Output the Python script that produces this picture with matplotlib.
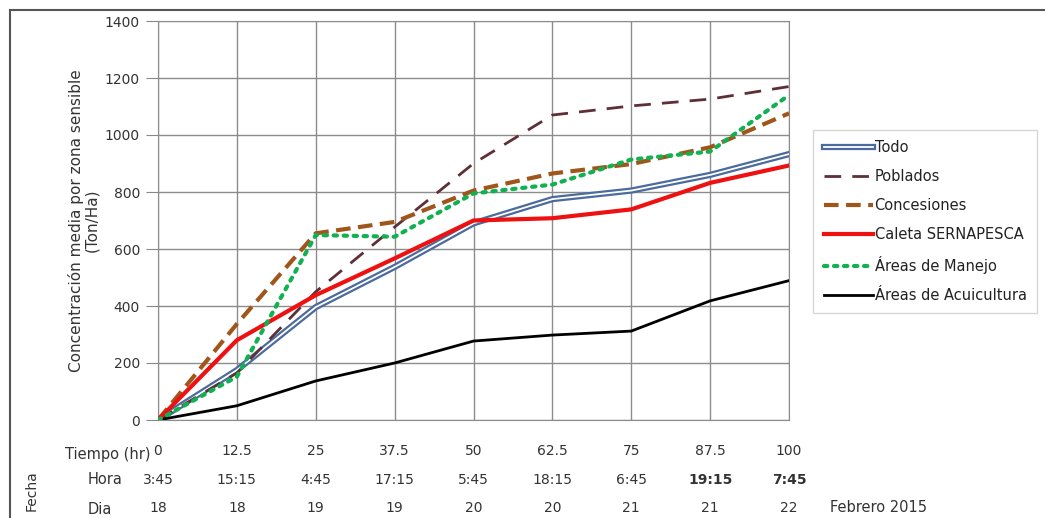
import matplotlib
matplotlib.use("Agg")
import matplotlib.pyplot as plt
import matplotlib.patheffects as pe
from matplotlib.lines import Line2D
from matplotlib.transforms import blended_transform_factory

plt.rcParams['font.family'] = ['DejaVu Sans']

tiempo = [0, 12.5, 25, 37.5, 50, 62.5, 75, 87.5, 100]
tiempo_labels = ["0", "12.5", "25", "37.5", "50", "62.5", "75", "87.5", "100"]
hora_labels = ["3:45", "15:15", "4:45", "17:15", "5:45", "18:15", "6:45", "19:15", "7:45"]
dia_labels = ["18", "18", "19", "19", "20", "20", "21", "21", "22"]

todo = [0, 175, 396, 537, 690, 775, 805, 860, 933]
poblados = [0, 165, 450, 677, 900, 1070, 1102, 1126, 1170]
concesiones = [0, 337, 655, 695, 805, 865, 898, 957, 1076]
caleta = [0, 280, 438, 567, 700, 708, 739, 832, 893]
manejo = [0, 152, 649, 643, 795, 826, 914, 942, 1140]
acuicultura = [0, 50, 137, 200, 277, 298, 312, 418, 489]

W, H = 1045, 518
fig = plt.figure(figsize=(W / 100, H / 100), dpi=100)
ax = fig.add_axes([158 / W, 1 - 420 / H, (789 - 158) / W, (420 - 21) / H])

ax.plot(tiempo, todo, color='white', lw=1.3, label='Todo',
        path_effects=[pe.Stroke(linewidth=4.5, foreground='#4a6b9c'), pe.Normal()], zorder=3)
ax.plot(tiempo, poblados, color='#5e2f36', lw=2, dashes=(6, 4), label='Poblados', zorder=3)
ax.plot(tiempo, concesiones, color='#a0561b', lw=3, dashes=(3.5, 1.8), label='Concesiones', zorder=3)
ax.plot(tiempo, caleta, color='#ee1111', lw=3, label='Caleta SERNAPESCA', zorder=4)
ax.plot(tiempo, manejo, color='#11b050', lw=3, linestyle=(0, (0.8, 1.6)), dash_capstyle='round',
        label='Áreas de Manejo', zorder=4)
ax.plot(tiempo, acuicultura, color='black', lw=2, label='Áreas de Acuicultura', zorder=3)

ax.set_xlim(0, 100)
ax.set_ylim(0, 1400)
ax.set_yticks(range(0, 1401, 200))
ax.set_xticks(tiempo)
ax.set_xticklabels(tiempo_labels, fontsize=10, color='#333333')
ax.tick_params(axis='x', length=0, pad=17)
ax.tick_params(axis='y', length=9, color='#888888', labelsize=10, labelcolor='#333333', pad=4)
ax.grid(True, color='#8c8c8c', lw=1)
ax.set_axisbelow(True)
for s in ax.spines.values():
    s.set_color('#8c8c8c')

ax.set_ylabel('Concentración media por zona sensible\n(Ton/Ha)', fontsize=11, color='#333333',
              labelpad=4, linespacing=1.0)

tr = blended_transform_factory(ax.transData, fig.transFigure)
for i, t in enumerate(tiempo):
    bold = 'bold' if i >= 7 else 'normal'
    ax.text(t, 1 - 480 / H, hora_labels[i], transform=tr, ha='center', va='center',
            fontsize=10, color='#333333', fontweight=bold)
    ax.text(t, 1 - 508 / H, dia_labels[i], transform=tr, ha='center', va='center',
            fontsize=10, color='#333333')

fig.text(65 / W, 1 - 455 / H, 'Tiempo (hr)', ha='left', va='center', fontsize=10.5, color='#333333')
fig.text(88 / W, 1 - 480 / H, 'Hora', ha='left', va='center', fontsize=10.5, color='#333333')
fig.text(88 / W, 1 - 510 / H, 'Dia', ha='left', va='center', fontsize=10.5, color='#333333')
fig.text(32 / W, 1 - 491 / H, 'Fecha', ha='center', va='center', rotation=90, fontsize=10, color='#333333')
fig.text(830 / W, 1 - 508 / H, 'Febrero 2015', ha='left', va='center', fontsize=10.5, color='#333333')

leg = ax.legend(loc='upper left', bbox_to_anchor=(806 / W, 1 - 123 / H), bbox_transform=fig.transFigure,
                frameon=True, fancybox=False, fontsize=10.5, handlelength=3.4, handletextpad=0.1,
                labelspacing=0.95, borderpad=0.7, edgecolor='#cccccc')
for t in leg.get_texts():
    t.set_color('#222222')

fig.add_artist(Line2D([10 / W, 1], [1 - 10 / H, 1 - 10 / H], transform=fig.transFigure, color='#555555', lw=1.5))
fig.add_artist(Line2D([10 / W, 10 / W], [0, 1 - 10 / H], transform=fig.transFigure, color='#555555', lw=1.5))

fig.savefig('out.png', dpi=100)
